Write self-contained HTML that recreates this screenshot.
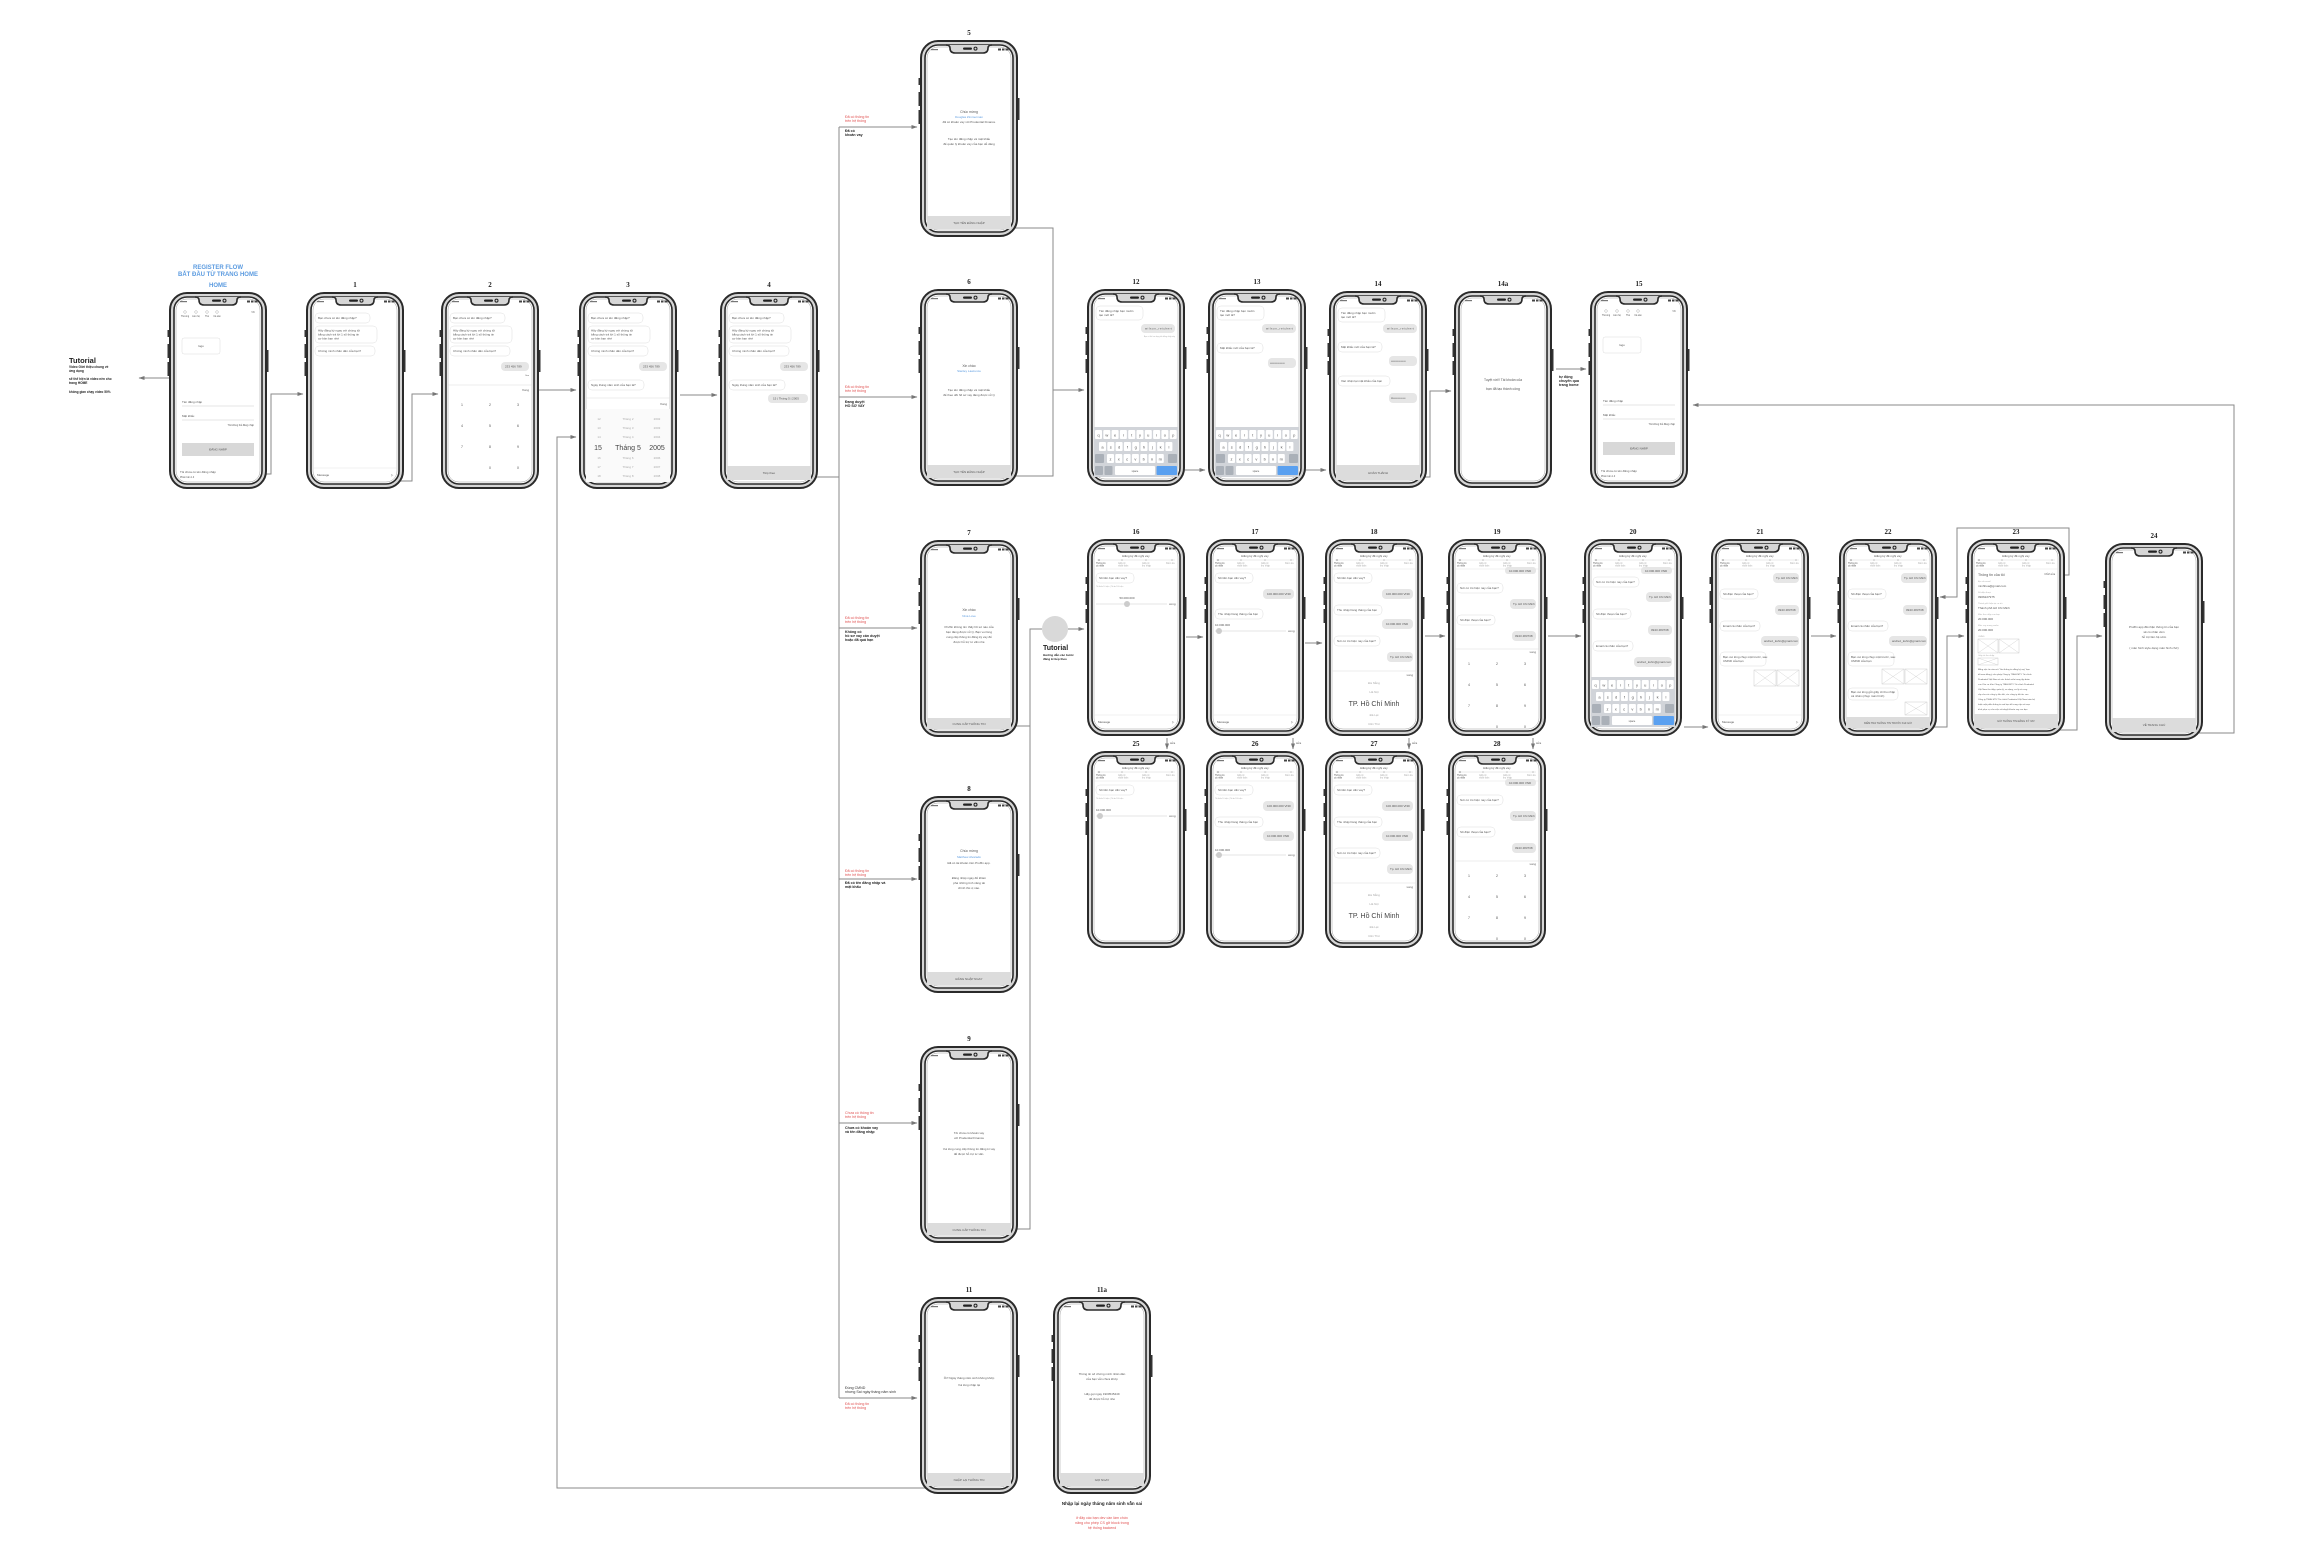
<!DOCTYPE html>
<html><head><meta charset="utf-8">
<style>
html,body{margin:0;padding:0;background:#fff;}
svg{display:block;}
.t{font-family:"Liberation Sans",sans-serif;font-size:3px;fill:#555;}
.t4{font-family:"Liberation Sans",sans-serif;font-size:3.6px;fill:#555;}
.c{text-anchor:middle;}
.r{text-anchor:end;}
.bl{fill:#fff;stroke:#ddd;stroke-width:.5;}
.br{fill:#e6e6e6;stroke:none;}
.btn{fill:#dcdcdc;}
.lb{font-family:"Liberation Serif",serif;font-size:7px;font-weight:bold;fill:#222;text-anchor:middle;}
.ln{fill:none;stroke:#8a8a8a;stroke-width:1;}
.red{font-family:"Liberation Sans",sans-serif;font-size:3.6px;fill:#e05050;}
.blk{font-family:"Liberation Sans",sans-serif;font-size:3.6px;fill:#222;font-weight:bold;}
.big{font-family:"Liberation Sans",sans-serif;font-size:7px;fill:#444;}
.blue{fill:#5b9be0;}
.ph{fill:#fff;stroke:#ccc;stroke-width:.5;}
</style></head>
<body>
<svg width="2304" height="1553" viewBox="0 0 2304 1553" xmlns="http://www.w3.org/2000/svg">
<defs>
<marker id="a" markerWidth="6" markerHeight="6" refX="5.5" refY="3" orient="auto" markerUnits="userSpaceOnUse"><path d="M0,1 L6,3 L0,5 z" fill="#777"/></marker>
<symbol id="ph" viewBox="-2 0 102 197" width="102" height="197" overflow="visible">
<rect x="-1.5" y="38" width="2.5" height="7" fill="#333"/>
<rect x="-1.5" y="52" width="2.5" height="14" fill="#333"/>
<rect x="-1.5" y="70" width="2.5" height="14" fill="#333"/>
<rect x="97" y="58" width="2.5" height="22" fill="#333"/>
<rect x="1" y="1" width="96" height="195" rx="17" fill="#d6d6d6" stroke="#2a2a2a" stroke-width="2"/>
<rect x="5" y="5" width="88" height="187" rx="13" fill="#fff" stroke="#2a2a2a" stroke-width="1.6"/>
<rect x="7" y="7" width="84" height="183" rx="11" fill="none" stroke="#999" stroke-width=".5"/>
<path d="M26 5 Q30 5 30 8 Q30 13 35 13 H63 Q68 13 68 8 Q68 5 72 5" fill="#d6d6d6" stroke="#2a2a2a" stroke-width="1.6"/>
<rect x="43" y="7.5" width="9" height="2.2" rx="1.1" fill="#222"/>
<circle cx="55.5" cy="8.6" r="1.5" fill="none" stroke="#222" stroke-width="1"/>
<rect x="11" y="9" width="7" height="1.2" fill="#777"/>
<rect x="78" y="8.5" width="3" height="2" fill="#444"/><rect x="82" y="8.5" width="2.5" height="2" fill="#444"/><rect x="85.5" y="8.5" width="3" height="2" fill="#444"/>
</symbol>
<symbol id="kb" viewBox="0 0 84 50" width="84" height="50">
<rect width="84" height="50" fill="#d1d4d9"/>
<g fill="#fff">
<rect x="1" y="3" width="7" height="9" rx="1"/><rect x="9.3" y="3" width="7" height="9" rx="1"/><rect x="17.6" y="3" width="7" height="9" rx="1"/><rect x="25.9" y="3" width="7" height="9" rx="1"/><rect x="34.2" y="3" width="7" height="9" rx="1"/><rect x="42.5" y="3" width="7" height="9" rx="1"/><rect x="50.8" y="3" width="7" height="9" rx="1"/><rect x="59.1" y="3" width="7" height="9" rx="1"/><rect x="67.4" y="3" width="7" height="9" rx="1"/><rect x="75.7" y="3" width="7" height="9" rx="1"/>
<rect x="5" y="15" width="7" height="9" rx="1"/><rect x="13.3" y="15" width="7" height="9" rx="1"/><rect x="21.6" y="15" width="7" height="9" rx="1"/><rect x="29.9" y="15" width="7" height="9" rx="1"/><rect x="38.2" y="15" width="7" height="9" rx="1"/><rect x="46.5" y="15" width="7" height="9" rx="1"/><rect x="54.8" y="15" width="7" height="9" rx="1"/><rect x="63.1" y="15" width="7" height="9" rx="1"/><rect x="71.4" y="15" width="7" height="9" rx="1"/>
<rect x="13" y="27" width="7" height="9" rx="1"/><rect x="21.3" y="27" width="7" height="9" rx="1"/><rect x="29.6" y="27" width="7" height="9" rx="1"/><rect x="37.9" y="27" width="7" height="9" rx="1"/><rect x="46.2" y="27" width="7" height="9" rx="1"/><rect x="54.5" y="27" width="7" height="9" rx="1"/><rect x="62.8" y="27" width="7" height="9" rx="1"/>
<rect x="21" y="39" width="40" height="9" rx="1"/>
</g>
<rect x="1" y="27" width="9" height="9" rx="1" fill="#aab0b8"/><rect x="74" y="27" width="9" height="9" rx="1" fill="#aab0b8"/>
<rect x="1" y="39" width="8" height="9" rx="1" fill="#aab0b8"/><rect x="10.5" y="39" width="8" height="9" rx="1" fill="#aab0b8"/>
<rect x="62.5" y="39" width="20.5" height="9" rx="1" fill="#5aa0f0"/>
<g class="t" style="font-size:4px" text-anchor="middle">
<text x="4.5" y="9.5">q</text><text x="12.8" y="9.5">w</text><text x="21.1" y="9.5">e</text><text x="29.4" y="9.5">r</text><text x="37.7" y="9.5">t</text><text x="46" y="9.5">y</text><text x="54.3" y="9.5">u</text><text x="62.6" y="9.5">i</text><text x="70.9" y="9.5">o</text><text x="79.2" y="9.5">p</text>
<text x="8.5" y="21.5">a</text><text x="16.8" y="21.5">s</text><text x="25.1" y="21.5">d</text><text x="33.4" y="21.5">f</text><text x="41.7" y="21.5">g</text><text x="50" y="21.5">h</text><text x="58.3" y="21.5">j</text><text x="66.6" y="21.5">k</text><text x="74.9" y="21.5">l</text>
<text x="16.5" y="33.5">z</text><text x="24.8" y="33.5">x</text><text x="33.1" y="33.5">c</text><text x="41.4" y="33.5">v</text><text x="49.7" y="33.5">b</text><text x="58" y="33.5">n</text><text x="66.3" y="33.5">m</text>
<text x="41" y="45" style="font-size:2.5px">space</text>
</g>
</symbol>
<symbol id="np" viewBox="0 0 84 80" width="84" height="80">
<g class="t" style="font-size:3.5px" text-anchor="middle">
<text x="14" y="10">1</text><text x="42" y="10">2</text><text x="70" y="10">3</text>
<text x="14" y="31">4</text><text x="42" y="31">5</text><text x="70" y="31">6</text>
<text x="14" y="52">7</text><text x="42" y="52">8</text><text x="70" y="52">9</text>
<text x="42" y="73">0</text><text x="70" y="73">X</text>
</g>
</symbol>
<symbol id="lh" viewBox="0 0 84 20" width="84" height="20">
<text class="t c" x="42" y="4">Đăng ký đề nghị vay</text>
<line x1="3" y1="7" x2="81" y2="7" stroke="#ccc" stroke-width=".4"/>
<circle cx="5" cy="7" r=".8" fill="#888"/><circle cx="28" cy="7" r=".8" fill="#bbb"/><circle cx="52" cy="7" r=".8" fill="#bbb"/><circle cx="78" cy="7" r=".8" fill="#bbb"/>
<text class="t" x="2" y="11" style="font-size:2.3px">Thông tin</text><text class="t" x="2" y="13.5" style="font-size:2.3px">cá nhân</text>
<text class="t" x="24" y="11" style="font-size:2.3px;fill:#aaa">Giấy tờ</text><text class="t" x="24" y="13.5" style="font-size:2.3px;fill:#aaa">nhân thân</text>
<text class="t" x="48" y="11" style="font-size:2.3px;fill:#aaa">Giấy tờ</text><text class="t" x="48" y="13.5" style="font-size:2.3px;fill:#aaa">thu nhập</text>
<text class="t" x="72" y="11" style="font-size:2.3px;fill:#aaa">Kiểm tra</text>
<line x1="0" y1="16" x2="84" y2="16" stroke="#ddd" stroke-width=".4"/>
</symbol>
<symbol id="login" viewBox="0 0 98 197" width="98" height="197">
<g class="t" style="font-size:2.3px" text-anchor="middle">
<circle cx="16" cy="20" r="1.3" fill="none" stroke="#999" stroke-width=".4"/><text x="16" y="25">Thương</text>
<circle cx="27" cy="20" r="1.3" fill="none" stroke="#999" stroke-width=".4"/><text x="27" y="25">Liên hệ</text>
<circle cx="38" cy="20" r="1.3" fill="none" stroke="#999" stroke-width=".4"/><text x="38" y="25">Thẻ</text>
<circle cx="48" cy="20" r="1.3" fill="none" stroke="#999" stroke-width=".4"/><text x="48" y="25">Cá sản</text>
<text x="84" y="21">VN</text>
</g>
<rect x="13" y="46" width="38" height="16" rx="2" fill="#fff" stroke="#ddd" stroke-width=".5"/>
<text class="t c" x="32" y="55">logo</text>
<text class="t" x="13" y="111">Tên đăng nhập</text>
<line x1="13" y1="114" x2="85" y2="114" stroke="#ddd" stroke-width=".8"/>
<text class="t" x="13" y="125">Mật khẩu</text>
<line x1="13" y1="128" x2="85" y2="128" stroke="#ddd" stroke-width=".8"/>
<text class="t r" x="85" y="134" style="font-size:2.4px">Tôi không thể đăng nhập</text>
<rect x="13" y="151" width="72" height="13" fill="#d8d8d8"/>
<text class="t c" x="49" y="158.5">ĐĂNG NHẬP</text>
<text class="t" x="11" y="181">Tôi chưa có tên đăng nhập</text>
<text class="t" x="11" y="186" style="font-size:2.3px">Phiên bản 1.0</text>
</symbol>
<symbol id="chat3" viewBox="0 0 98 197" width="98" height="197">
<rect class="bl" x="9" y="21" width="55" height="10" rx="4"/><text class="t" x="12" y="27">Bạn chưa có tên đăng nhập?</text>
<rect class="bl" x="9" y="34" width="62" height="17" rx="4"/><text class="t" x="12" y="39.5">Hãy đăng ký ngay với chúng tôi</text><text class="t" x="12" y="43.5">bằng cách trả lời 1 số thông tin</text><text class="t" x="12" y="47.5">cơ bản bạn nhé</text>
<rect class="bl" x="9" y="54" width="60" height="10" rx="4"/><text class="t" x="12" y="60">Chứng minh nhân dân của bạn?</text>
</symbol>
<symbol id="msg" viewBox="0 0 98 197" width="98" height="197">
<line x1="7" y1="176" x2="91" y2="176" stroke="#e2e2e2" stroke-width=".5"/>
<text class="t" x="11" y="184">Message</text><text class="t" x="85" y="184">▷</text>
</symbol>
</defs>

<!-- connectors -->
<g class="ln">
<path d="M218,378 H139" marker-end="url(#a)"/>
<path d="M232,474 H271 V394 H303" marker-end="url(#a)"/>
<path d="M358,481 H412 V394 H438" marker-end="url(#a)"/>
<path d="M528,390 H576" marker-end="url(#a)"/>
<path d="M936,1488 H557 V437 H576" marker-end="url(#a)"/>
<path d="M680,395 H717" marker-end="url(#a)"/>
<path d="M800,477 H839"/>
<path d="M839,127 V1398"/>
<path d="M839,127 H917" marker-end="url(#a)"/>
<path d="M839,397 H917" marker-end="url(#a)"/>
<path d="M839,628 H917" marker-end="url(#a)"/>
<path d="M839,879 H917" marker-end="url(#a)"/>
<path d="M839,1123 H917" marker-end="url(#a)"/>
<path d="M839,1398 H917" marker-end="url(#a)"/>
<path d="M1000,228 H1053 V476 H1000"/>
<path d="M1053,390 H1084" marker-end="url(#a)"/>
<path d="M1182,470 H1205" marker-end="url(#a)"/>
<path d="M1302,470 H1326" marker-end="url(#a)"/>
<path d="M1410,477 H1430 V391 H1451" marker-end="url(#a)"/>
<path d="M1556,369 H1586" marker-end="url(#a)"/>
<path d="M2190,733 H2234 V405 H1693" marker-end="url(#a)"/>
<path d="M1000,726 H1030 V629 H1042"/>
<path d="M990,1229 H1030 V726"/>
<path d="M1068,629 H1084" marker-end="url(#a)"/>
<path d="M1186,637 H1203" marker-end="url(#a)"/>
<path d="M1305,643 H1322" marker-end="url(#a)"/>
<path d="M1425,636 H1445" marker-end="url(#a)"/>
<path d="M1548,636 H1581" marker-end="url(#a)"/>
<path d="M1684,727 H1708" marker-end="url(#a)"/>
<path d="M1811,636 H1836" marker-end="url(#a)"/>
<path d="M1927,727 H1947 V636 H1964" marker-end="url(#a)"/>
<path d="M2058,575 H2069 V528 H1957 V597 H1940" marker-end="url(#a)"/>
<path d="M2048,730 H2077 V636 H2102" marker-end="url(#a)"/>
<path d="M1167,738 V749" marker-end="url(#a)"/>
<path d="M1293,738 V749" marker-end="url(#a)"/>
<path d="M1409,738 V749" marker-end="url(#a)"/>
<path d="M1533,738 V749" marker-end="url(#a)"/>
</g>
<g class="t"><text x="1170" y="744">sửa</text><text x="1296" y="744">sửa</text><text x="1412" y="744">sửa</text><text x="1536" y="744">sửa</text></g>
<circle cx="1055" cy="629" r="13" fill="#d9d9d9"/>
<text x="1043" y="650" style="font-family:'Liberation Sans',sans-serif;font-size:7px;font-weight:bold;fill:#222">Tutorial</text>
<text class="blk" x="1043" y="656" style="font-size:3px">Hướng dẫn các bước</text>
<text class="blk" x="1043" y="660" style="font-size:3px">đăng kí tiếp theo</text>

<!-- titles -->
<text x="218" y="269" style="font-family:'Liberation Sans',sans-serif;font-size:6px;font-weight:bold;fill:#5b9be0" text-anchor="middle">REGISTER FLOW</text>
<text x="218" y="276" style="font-family:'Liberation Sans',sans-serif;font-size:6px;font-weight:bold;fill:#5b9be0" text-anchor="middle">BẮT ĐẦU TỪ TRANG HOME</text>
<text x="218" y="287" style="font-family:'Liberation Sans',sans-serif;font-size:6px;font-weight:bold;fill:#5b9be0" text-anchor="middle">HOME</text>
<text x="69" y="363" style="font-family:'Liberation Sans',sans-serif;font-size:7.5px;font-weight:bold;fill:#222">Tutorial</text>
<g class="blk" style="font-size:3.2px"><text x="69" y="368">Video Giới thiệu chung về</text><text x="69" y="372">ứng dụng</text><text x="69" y="380">sẽ thể hiện là video nền cho</text><text x="69" y="384">trang HOME</text><text x="69" y="393">không gian chạy video 50%</text></g>

<!-- branch labels -->
<text class="red" x="845" y="118">Đã có thông tin</text><text class="red" x="845" y="122">trên hệ thống</text>
<text class="blk" x="845" y="132">Đã có</text><text class="blk" x="845" y="136">khoản vay</text>
<text class="red" x="845" y="388">Đã có thông tin</text><text class="red" x="845" y="392">trên hệ thống</text>
<text class="blk" x="845" y="403">Đang duyệt</text><text class="blk" x="845" y="407">HỒ SƠ VAY</text>
<text class="red" x="845" y="619">Đã có thông tin</text><text class="red" x="845" y="623">trên hệ thống</text>
<text class="blk" x="845" y="633">Không có</text><text class="blk" x="845" y="637">hồ sơ vay cần duyệt</text><text class="blk" x="845" y="641">hoặc đã quá hạn</text>
<text class="red" x="845" y="872">Đã có thông tin</text><text class="red" x="845" y="876">trên hệ thống</text>
<text class="blk" x="845" y="884">Đã có tên đăng nhập và</text><text class="blk" x="845" y="888">mật khẩu</text>
<text class="red" x="845" y="1114">Chưa có thông tin</text><text class="red" x="845" y="1118">trên hệ thống</text>
<text class="blk" x="845" y="1129">Chưa có khoản vay</text><text class="blk" x="845" y="1133">và tên đăng nhập</text>
<text class="t4" x="845" y="1389" style="fill:#333">Đúng CMND</text><text class="t4" x="845" y="1393" style="fill:#333">nhưng Sai ngày tháng năm sinh</text>
<text class="red" x="845" y="1405">Đã có thông tin</text><text class="red" x="845" y="1409">trên hệ thống</text>
<text class="blk" x="1559" y="378">tự động</text><text class="blk" x="1559" y="382">chuyển qua</text><text class="blk" x="1559" y="386">trang home</text>
<text x="1102" y="1505" style="font-family:'Liberation Sans',sans-serif;font-size:4.5px;font-weight:bold;fill:#222" text-anchor="middle">Nhập lại ngày tháng năm sinh vẫn sai</text>
<g class="red" text-anchor="middle"><text x="1102" y="1519">ở đây các bạn dev cần làm chức</text><text x="1102" y="1524">năng cho phép CS gỡ block trong</text><text x="1102" y="1529">hệ thống backend</text></g>

<!-- HOME -->
<g transform="translate(169,292)"><use href="#ph" x="-2"/><use href="#login"/></g>
<!-- 1 -->
<g transform="translate(306,292)"><text class="lb" x="49" y="-5">1</text><use href="#ph" x="-2"/><use href="#chat3"/><use href="#msg"/></g>
<!-- 2 -->
<g transform="translate(441,292)"><text class="lb" x="49" y="-5">2</text><use href="#ph" x="-2"/><use href="#chat3"/>
<rect class="br" x="60" y="70" width="28" height="9" rx="4"/><text class="t" x="64" y="75.5">233 456 789</text><text class="t r" x="88" y="84" style="font-size:2px">Sửa</text>
<line x1="7" y1="93" x2="91" y2="93" stroke="#ddd" stroke-width=".5"/><text class="t r" x="88" y="99">Xong</text>
<use href="#np" x="7" y="104"/></g>
<!-- 3 -->
<g transform="translate(579,292)"><text class="lb" x="49" y="-5">3</text><use href="#ph" x="-2"/><use href="#chat3"/>
<rect class="br" x="60" y="70" width="28" height="9" rx="4"/><text class="t" x="64" y="75.5">233 456 789</text>
<rect class="bl" x="9" y="88" width="56" height="10" rx="4"/><text class="t" x="12" y="94">Ngày tháng năm sinh của bạn là?</text>
<line x1="7" y1="106" x2="91" y2="106" stroke="#ddd" stroke-width=".5"/><text class="t r" x="88" y="113">Xong</text>
<rect x="7" y="117" width="84" height="73" fill="#fafafa"/>
<g class="t c" style="fill:#aaa"><text x="20" y="128">12</text><text x="49" y="128">Tháng 2</text><text x="78" y="128">2002</text><text x="20" y="137">13</text><text x="49" y="137">Tháng 3</text><text x="78" y="137">2003</text><text x="20" y="146">14</text><text x="49" y="146">Tháng 4</text><text x="78" y="146">2004</text>
<text x="20" y="167">16</text><text x="49" y="167">Tháng 6</text><text x="78" y="167">2006</text><text x="20" y="176">17</text><text x="49" y="176">Tháng 7</text><text x="78" y="176">2007</text><text x="20" y="185">18</text><text x="49" y="185">Tháng 8</text><text x="78" y="185">2008</text></g>
<g class="big c"><text x="19" y="158">15</text><text x="49" y="158">Tháng 5</text><text x="78" y="158">2005</text></g></g>
<!-- 4 -->
<g transform="translate(720,292)"><text class="lb" x="49" y="-5">4</text><use href="#ph" x="-2"/><use href="#chat3"/>
<rect class="br" x="60" y="70" width="28" height="9" rx="4"/><text class="t" x="64" y="75.5">233 456 789</text>
<rect class="bl" x="9" y="88" width="56" height="10" rx="4"/><text class="t" x="12" y="94">Ngày tháng năm sinh của bạn là?</text>
<rect class="br" x="48" y="102" width="40" height="9" rx="4"/><text class="t" x="53" y="107.5">15 | Tháng 5 | 2005</text>
<rect class="btn" x="7" y="174" width="84" height="14"/><text class="t c" x="49" y="182">Tiếp theo</text></g>
<!-- 5 -->
<g transform="translate(920,40)"><text class="lb" x="49" y="-5">5</text><use href="#ph" x="-2"/>
<g class="t c"><text x="49" y="73" style="font-size:3.4px">Chúc mừng</text><text x="49" y="78" class="blue">Douglas Zimmerman</text><text x="49" y="83">đã có khoản vay với Prudential Finance</text><text x="49" y="100">Tạo tên đăng nhập và mật khẩu</text><text x="49" y="105">để quản lý khoản vay của bạn dễ dàng</text></g>
<rect class="btn" x="7" y="176" width="84" height="13"/><text class="t c" x="49" y="184">TẠO TÊN ĐĂNG NHẬP</text></g>
<!-- 6 -->
<g transform="translate(920,289)"><text class="lb" x="49" y="-5">6</text><use href="#ph" x="-2"/>
<g class="t c"><text x="49" y="78" style="font-size:3.4px">Xin chào</text><text x="49" y="83" class="blue">Stanley Lawrence</text><text x="49" y="102">Tạo tên đăng nhập và mật khẩu</text><text x="49" y="107">để theo dõi hồ sơ vay đang được xử lý</text></g>
<rect class="btn" x="7" y="176" width="84" height="13"/><text class="t c" x="49" y="184">TẠO TÊN ĐĂNG NHẬP</text></g>
<!-- 7 -->
<g transform="translate(920,540)"><text class="lb" x="49" y="-5">7</text><use href="#ph" x="-2"/>
<g class="t c"><text x="49" y="71" style="font-size:3.4px">Xin chào</text><text x="49" y="77" class="blue">Nina Love</text><text x="49" y="88">Pruffin không tìm thấy hồ sơ nào của</text><text x="49" y="93">bạn đang được xử lý. Bạn vui lòng</text><text x="49" y="98">cung cấp thông tin đăng ký vay để</text><text x="49" y="103">được hỗ trợ tư vấn nhé</text></g>
<rect class="btn" x="7" y="178" width="84" height="11"/><text class="t c" x="49" y="185">CUNG CẤP THÔNG TIN</text></g>
<!-- 8 -->
<g transform="translate(920,796)"><text class="lb" x="49" y="-5">8</text><use href="#ph" x="-2"/>
<g class="t c"><text x="49" y="56" style="font-size:3.4px">Chúc mừng</text><text x="49" y="62" class="blue">Matthew Alvarado</text><text x="49" y="68">Đã có tài khoản trên Pruffin app.</text><text x="49" y="83">Đăng nhập ngay để khám</text><text x="49" y="88">phá những tính năng tài</text><text x="49" y="93">chính thú vị nào.</text></g>
<rect class="btn" x="7" y="176" width="84" height="13"/><text class="t c" x="49" y="184">ĐĂNG NHẬP NGAY</text></g>
<!-- 9 -->
<g transform="translate(920,1046)"><text class="lb" x="49" y="-5">9</text><use href="#ph" x="-2"/>
<g class="t c"><text x="49" y="88">Tôi chưa có khoản vay</text><text x="49" y="93">với Prudential Finance</text><text x="49" y="104">Vui lòng cung cấp thông tin đăng kí vay</text><text x="49" y="109">để được hỗ trợ tư vấn.</text></g>
<rect class="btn" x="7" y="177" width="84" height="12"/><text class="t c" x="49" y="185">CUNG CẤP THÔNG TIN</text></g>
<!-- 11 -->
<g transform="translate(920,1297)"><text class="lb" x="49" y="-5">11</text><use href="#ph" x="-2"/>
<g class="t c"><text x="49" y="82">Ôi!! Ngày tháng năm sinh không khớp</text><text x="49" y="89">Vui lòng nhập lại</text></g>
<rect class="btn" x="7" y="176" width="84" height="13"/><text class="t c" x="49" y="184">NHẬP LẠI THÔNG TIN</text></g>
<!-- 11a -->
<g transform="translate(1053,1297)"><text class="lb" x="49" y="-5">11a</text><use href="#ph" x="-2"/>
<g class="t c"><text x="49" y="78">Thông tin số chứng minh nhân dân</text><text x="49" y="83">của bạn vẫn chưa khớp</text><text x="49" y="98">Hãy gọi ngay 1900545449</text><text x="49" y="103">để được hỗ trợ nhé</text></g>
<rect class="btn" x="7" y="176" width="84" height="13"/><text class="t c" x="49" y="184">GỌI NGAY</text></g>
<!-- 12 -->
<g transform="translate(1087,289)"><text class="lb" x="49" y="-5">12</text><use href="#ph" x="-2"/>
<rect class="bl" x="9" y="17" width="47" height="14" rx="4"/><text class="t" x="12" y="23">Tên đăng nhập bạn muốn</text><text class="t" x="12" y="27">tạo mới là?</text>
<rect class="br" x="54" y="35" width="34" height="9" rx="4"/><text class="t" x="58" y="40.5" style="letter-spacing:.5px">wilson_reichert</text>
<text class="t r" x="88" y="48" style="font-size:1.8px;fill:#aaa">Bạn có thể sử dụng tên đăng nhập này</text>
<use href="#kb" x="7" y="138"/></g>
<!-- 13 -->
<g transform="translate(1208,289)"><text class="lb" x="49" y="-5">13</text><use href="#ph" x="-2"/>
<rect class="bl" x="9" y="17" width="47" height="14" rx="4"/><text class="t" x="12" y="23">Tên đăng nhập bạn muốn</text><text class="t" x="12" y="27">tạo mới là?</text>
<rect class="br" x="54" y="35" width="34" height="9" rx="4"/><text class="t" x="58" y="40.5" style="letter-spacing:.5px">wilson_reichert</text>
<rect class="bl" x="9" y="54" width="46" height="10" rx="4"/><text class="t" x="12" y="60">Mật khẩu mới của bạn là?</text>
<rect class="br" x="60" y="69" width="28" height="10" rx="4"/><text class="t" x="62" y="75">••••••••••••••</text>
<use href="#kb" x="7" y="138"/></g>
<!-- 14 -->
<g transform="translate(1329,291)"><text class="lb" x="49" y="-5">14</text><use href="#ph" x="-2"/>
<rect class="bl" x="9" y="17" width="47" height="14" rx="4"/><text class="t" x="12" y="23">Tên đăng nhập bạn muốn</text><text class="t" x="12" y="27">tạo mới là?</text>
<rect class="br" x="54" y="33" width="34" height="9" rx="4"/><text class="t" x="58" y="38.5" style="letter-spacing:.5px">wilson_reichert</text>
<rect class="bl" x="9" y="51" width="44" height="10" rx="4"/><text class="t" x="12" y="57">Mật khẩu mới của bạn là?</text>
<rect class="br" x="60" y="65" width="28" height="10" rx="4"/><text class="t" x="62" y="71">••••••••••••••</text>
<rect class="bl" x="9" y="85" width="52" height="10" rx="4"/><text class="t" x="12" y="91">Xác nhận lại mật khẩu của bạn</text>
<rect class="br" x="60" y="102" width="28" height="10" rx="4"/><text class="t" x="62" y="108">A••••••••••••</text>
<rect class="btn" x="7" y="174" width="84" height="15"/><text class="t c" x="49" y="183">HOÀN THÀNH</text></g>
<!-- 14a -->
<g transform="translate(1454,291)"><text class="lb" x="49" y="-5">14a</text><use href="#ph" x="-2"/>
<g class="t c" style="font-size:3.4px"><text x="49" y="90">Tuyệt vời!! Tài khoản của</text><text x="49" y="99">bạn đã tạo thành công</text></g></g>
<!-- 15 -->
<g transform="translate(1590,291)"><text class="lb" x="49" y="-5">15</text><use href="#ph" x="-2"/><use href="#login"/></g>

<!-- 16 -->
<g transform="translate(1087,539)"><text class="lb" x="49" y="-5">16</text><use href="#ph" x="-2"/><use href="#lh" x="7" y="14"/>
<rect class="bl" x="9" y="34" width="38" height="10" rx="4"/><text class="t" x="12" y="40">Số tiền bạn cần vay?</text>
<text class="t" x="9" y="48" style="font-size:1.8px;fill:#aaa">Tối thiểu 10 triệu | Tối đa 100 triệu</text>
<text class="t c" x="40" y="60">50.000.000</text><line x1="9" y1="65" x2="80" y2="65" stroke="#ccc" stroke-width=".6"/><circle cx="40" cy="65" r="3" fill="#ccc"/><text class="t" x="82" y="66">xong</text>
<use href="#msg"/></g>
<!-- 17 -->
<g transform="translate(1206,539)"><text class="lb" x="49" y="-5">17</text><use href="#ph" x="-2"/><use href="#lh" x="7" y="14"/>
<rect class="bl" x="9" y="34" width="38" height="10" rx="4"/><text class="t" x="12" y="40">Số tiền bạn cần vay?</text>
<rect class="br" x="57" y="50" width="31" height="10" rx="4"/><text class="t" x="61" y="56">100.000.000 VND</text>
<rect class="bl" x="9" y="70" width="48" height="10" rx="4"/><text class="t" x="12" y="76">Thu nhập hàng tháng của bạn</text>
<text class="t" x="9" y="87">10.000.000</text><line x1="9" y1="92" x2="80" y2="92" stroke="#ccc" stroke-width=".6"/><circle cx="13" cy="92" r="3" fill="#ccc"/><text class="t" x="82" y="93">xong</text>
<use href="#msg"/></g>
<!-- 18 -->
<g transform="translate(1325,539)"><text class="lb" x="49" y="-5">18</text><use href="#ph" x="-2"/><use href="#lh" x="7" y="14"/>
<rect class="bl" x="9" y="34" width="38" height="10" rx="4"/><text class="t" x="12" y="40">Số tiền bạn cần vay?</text>
<rect class="br" x="57" y="50" width="31" height="10" rx="4"/><text class="t" x="61" y="56">100.000.000 VND</text>
<rect class="bl" x="9" y="66" width="48" height="10" rx="4"/><text class="t" x="12" y="72">Thu nhập hàng tháng của bạn</text>
<rect class="br" x="57" y="80" width="31" height="10" rx="4"/><text class="t" x="61" y="86">10.000.000 VND</text>
<rect class="bl" x="9" y="97" width="46" height="10" rx="4"/><text class="t" x="12" y="103">Nơi cư trú hiện nay của bạn?</text>
<rect class="br" x="62" y="113" width="26" height="10" rx="4"/><text class="t" x="65" y="119">Tp. Hồ Chí Minh</text>
<line x1="7" y1="132" x2="91" y2="132" stroke="#ddd" stroke-width=".5"/><text class="t r" x="88" y="137">xong</text>
<g class="t c" style="fill:#aaa"><text x="49" y="145">Đà Nẵng</text><text x="49" y="154">Hà Nội</text><text x="49" y="177">Đà Lạt</text><text x="49" y="186">Cần Thơ</text></g>
<text class="big c" x="49" y="167">TP. Hồ Chí Minh</text></g>
<!-- 19 -->
<g transform="translate(1448,539)"><text class="lb" x="49" y="-5">19</text><use href="#ph" x="-2"/><use href="#lh" x="7" y="14"/>
<rect class="br" x="57" y="28" width="31" height="7" rx="3"/><text class="t" x="61" y="33">10.000.000 VND</text>
<rect class="bl" x="9" y="44" width="46" height="10" rx="4"/><text class="t" x="12" y="50">Nơi cư trú hiện nay của bạn?</text>
<rect class="br" x="62" y="60" width="26" height="10" rx="4"/><text class="t" x="65" y="66">Tp. Hồ Chí Minh</text>
<rect class="bl" x="9" y="76" width="38" height="10" rx="4"/><text class="t" x="12" y="82">Số điện thoại của bạn?</text>
<rect class="br" x="64" y="92" width="24" height="10" rx="4"/><text class="t" x="67" y="98">0943 483738</text>
<line x1="7" y1="110" x2="91" y2="110" stroke="#ddd" stroke-width=".5"/><text class="t r" x="88" y="114">xong</text>
<use href="#np" x="7" y="116"/></g>
<!-- 20 -->
<g transform="translate(1584,539)"><text class="lb" x="49" y="-5">20</text><use href="#ph" x="-2"/><use href="#lh" x="7" y="14"/>
<rect class="br" x="57" y="28" width="31" height="7" rx="3"/><text class="t" x="61" y="33">10.000.000 VND</text>
<rect class="bl" x="9" y="38" width="46" height="10" rx="4"/><text class="t" x="12" y="44">Nơi cư trú hiện nay của bạn?</text>
<rect class="br" x="62" y="53" width="26" height="10" rx="4"/><text class="t" x="65" y="59">Tp. Hồ Chí Minh</text>
<rect class="bl" x="9" y="70" width="38" height="10" rx="4"/><text class="t" x="12" y="76">Số điện thoại của bạn?</text>
<rect class="br" x="64" y="86" width="24" height="10" rx="4"/><text class="t" x="67" y="92">0943 483738</text>
<rect class="bl" x="9" y="102" width="40" height="10" rx="4"/><text class="t" x="12" y="108">Email cá nhân của bạn?</text>
<rect class="br" x="50" y="118" width="38" height="10" rx="4"/><text class="t" x="53" y="124">andrez_kuhn@gmail.com</text>
<use href="#kb" x="7" y="138"/></g>
<!-- 21 -->
<g transform="translate(1711,539)"><text class="lb" x="49" y="-5">21</text><use href="#ph" x="-2"/><use href="#lh" x="7" y="14"/>
<rect class="br" x="62" y="34" width="26" height="10" rx="4"/><text class="t" x="65" y="40">Tp. Hồ Chí Minh</text>
<rect class="bl" x="9" y="50" width="38" height="10" rx="4"/><text class="t" x="12" y="56">Số điện thoại của bạn?</text>
<rect class="br" x="64" y="66" width="24" height="10" rx="4"/><text class="t" x="67" y="72">0943 483738</text>
<rect class="bl" x="9" y="82" width="40" height="10" rx="4"/><text class="t" x="12" y="88">Email cá nhân của bạn?</text>
<rect class="br" x="50" y="97" width="38" height="10" rx="4"/><text class="t" x="53" y="103">andrez_kuhn@gmail.com</text>
<rect class="bl" x="9" y="113" width="46" height="14" rx="4"/><text class="t" x="12" y="119">Bạn vui lòng chụp mặt trước, sau</text><text class="t" x="12" y="123">CMND của bạn</text>
<rect class="ph" x="43" y="131" width="22" height="16"/><path d="M43,131 L65,147 M65,131 L43,147" stroke="#ccc" stroke-width=".4"/>
<rect class="ph" x="66" y="131" width="22" height="16"/><path d="M66,131 L88,147 M88,131 L66,147" stroke="#ccc" stroke-width=".4"/>
<use href="#msg"/></g>
<!-- 22 -->
<g transform="translate(1839,539)"><text class="lb" x="49" y="-5">22</text><use href="#ph" x="-2"/><use href="#lh" x="7" y="14"/>
<rect class="br" x="62" y="34" width="26" height="10" rx="4"/><text class="t" x="65" y="40">Tp. Hồ Chí Minh</text>
<rect class="bl" x="9" y="50" width="38" height="10" rx="4"/><text class="t" x="12" y="56">Số điện thoại của bạn?</text>
<rect class="br" x="64" y="66" width="24" height="10" rx="4"/><text class="t" x="67" y="72">0943 483738</text>
<rect class="bl" x="9" y="82" width="40" height="10" rx="4"/><text class="t" x="12" y="88">Email cá nhân của bạn?</text>
<rect class="br" x="50" y="97" width="38" height="10" rx="4"/><text class="t" x="53" y="103">andrez_kuhn@gmail.com</text>
<rect class="bl" x="9" y="113" width="46" height="14" rx="4"/><text class="t" x="12" y="119">Bạn vui lòng chụp mặt trước, sau</text><text class="t" x="12" y="123">CMND của bạn</text>
<rect class="ph" x="43" y="130" width="22" height="15"/><path d="M43,130 L65,145 M65,130 L43,145" stroke="#ccc" stroke-width=".4"/>
<rect class="ph" x="66" y="130" width="22" height="15"/><path d="M66,130 L88,145 M88,130 L66,145" stroke="#ccc" stroke-width=".4"/>
<rect class="bl" x="9" y="149" width="50" height="12" rx="4"/><text class="t" x="12" y="154">Bạn vui lòng gửi giấy tờ thu nhập</text><text class="t" x="12" y="158">cá nhân (chụp màn hình)</text>
<rect class="ph" x="66" y="163" width="22" height="13"/><path d="M66,163 L88,176 M88,163 L66,176" stroke="#ccc" stroke-width=".4"/>
<rect class="btn" x="7" y="178" width="84" height="11"/><text class="t c" x="49" y="185" style="font-size:2.6px">KIỂM TRA THÔNG TIN TRƯỚC KHI GỬI</text></g>
<!-- 23 -->
<g transform="translate(1967,539)"><text class="lb" x="49" y="-5">23</text><use href="#ph" x="-2"/><use href="#lh" x="7" y="14"/>
<text class="t4" x="11" y="37">Thông tin của tôi</text><text class="t r" x="88" y="36" style="font-size:2.3px">Chỉnh sửa</text>
<g class="t" style="font-size:2.2px;fill:#aaa"><text x="11" y="43">Địa chỉ email</text><text x="11" y="54">Số điện thoại</text><text x="11" y="65">Thành phố hiện tại cư trú</text><text x="11" y="76">Mức thu nhập của bạn</text><text x="11" y="87">Mức vay mong muốn</text><text x="11" y="98">CMND</text><text x="11" y="117">Giấy tờ thu nhập</text></g>
<g class="t"><text x="11" y="48">minhhoa@gmail.com</text><text x="11" y="59">0906227975</text><text x="11" y="70">Thành phố Hồ Chí Minh</text><text x="11" y="81">20.000.000</text><text x="11" y="92">20.000.000</text></g>
<rect class="ph" x="11" y="100" width="20" height="14"/><path d="M11,100 L31,114 M31,100 L11,114" stroke="#ccc" stroke-width=".4"/>
<rect class="ph" x="32" y="100" width="20" height="14"/><path d="M32,100 L52,114 M52,100 L32,114" stroke="#ccc" stroke-width=".4"/>
<rect class="ph" x="11" y="119" width="20" height="7"/><path d="M11,119 L31,126 M31,119 L11,126" stroke="#ccc" stroke-width=".4"/>
<g class="t" style="font-size:2.2px"><text x="11" y="131">Bằng việc ấn vào nút "Gửi thông tin đăng ký vay" bạn</text><text x="11" y="136">đã xem đồng ý cho phép Công ty TNHH MTV Tài chính</text><text x="11" y="141">Prudential Việt Nam và các thành viên trong tập đoàn</text><text x="11" y="146">của Chủ sở hữu Công ty TNHH MTV Tài chính Prudential</text><text x="11" y="151">Việt Nam thu thập, quản lý, sử dụng, xử lý và cung</text><text x="11" y="156">cấp cho các công ty liên kết, các công ty đối tác của</text><text x="11" y="161">Công ty TNHH MTV Tài chính Prudential Việt Nam toàn bộ</text><text x="11" y="166">hoặc một phần thông tin mà bạn đã cung cấp với mục</text><text x="11" y="171">đích phục vụ cho việc xét duyệt khoản vay của bạn</text></g>
<rect class="btn" x="7" y="175" width="84" height="14"/><text class="t c" x="49" y="183" style="font-size:2.6px">GỬI THÔNG TIN ĐĂNG KÝ VAY</text></g>
<!-- 24 -->
<g transform="translate(2105,543)"><text class="lb" x="49" y="-5">24</text><use href="#ph" x="-2"/>
<g class="t c"><text x="49" y="85">Pruffin app đã nhận thông tin của bạn</text><text x="49" y="90">sẽ có nhân viên</text><text x="49" y="95">hỗ trợ liên hệ sớm</text><text x="49" y="106">( màn hình style dạng màn hình chờ)</text></g>
<rect class="btn" x="7" y="175" width="84" height="14"/><text class="t c" x="49" y="183">VỀ TRANG CHỦ</text></g>

<!-- 25 -->
<g transform="translate(1087,751)"><text class="lb" x="49" y="-5">25</text><use href="#ph" x="-2"/><use href="#lh" x="7" y="14"/>
<rect class="bl" x="9" y="34" width="38" height="10" rx="4"/><text class="t" x="12" y="40">Số tiền bạn cần vay?</text>
<text class="t" x="9" y="48" style="font-size:1.8px;fill:#aaa">Tối thiểu 10 triệu | Tối đa 100 triệu</text>
<text class="t" x="9" y="60">10.000.000</text><line x1="9" y1="65" x2="80" y2="65" stroke="#ccc" stroke-width=".6"/><circle cx="13" cy="65" r="3" fill="#ccc"/><text class="t" x="82" y="66">xong</text></g>
<!-- 26 -->
<g transform="translate(1206,751)"><text class="lb" x="49" y="-5">26</text><use href="#ph" x="-2"/><use href="#lh" x="7" y="14"/>
<rect class="bl" x="9" y="34" width="38" height="10" rx="4"/><text class="t" x="12" y="40">Số tiền bạn cần vay?</text>
<text class="t" x="9" y="48" style="font-size:1.8px;fill:#aaa">Tối thiểu 10 triệu | Tối đa 100 triệu</text>
<rect class="br" x="57" y="50" width="31" height="10" rx="4"/><text class="t" x="61" y="56">100.000.000 VND</text>
<rect class="bl" x="9" y="66" width="48" height="10" rx="4"/><text class="t" x="12" y="72">Thu nhập hàng tháng của bạn</text>
<rect class="br" x="57" y="80" width="31" height="10" rx="4"/><text class="t" x="61" y="86">10.000.000 VND</text>
<text class="t" x="9" y="100">10.000.000</text><line x1="9" y1="104" x2="80" y2="104" stroke="#ccc" stroke-width=".6"/><circle cx="13" cy="104" r="3" fill="#ccc"/><text class="t" x="82" y="105">xong</text></g>
<!-- 27 -->
<g transform="translate(1325,751)"><text class="lb" x="49" y="-5">27</text><use href="#ph" x="-2"/><use href="#lh" x="7" y="14"/>
<rect class="bl" x="9" y="34" width="38" height="10" rx="4"/><text class="t" x="12" y="40">Số tiền bạn cần vay?</text>
<rect class="br" x="57" y="50" width="31" height="10" rx="4"/><text class="t" x="61" y="56">100.000.000 VND</text>
<rect class="bl" x="9" y="66" width="48" height="10" rx="4"/><text class="t" x="12" y="72">Thu nhập hàng tháng của bạn</text>
<rect class="br" x="57" y="80" width="31" height="10" rx="4"/><text class="t" x="61" y="86">10.000.000 VND</text>
<rect class="bl" x="9" y="97" width="46" height="10" rx="4"/><text class="t" x="12" y="103">Nơi cư trú hiện nay của bạn?</text>
<rect class="br" x="62" y="113" width="26" height="10" rx="4"/><text class="t" x="65" y="119">Tp. Hồ Chí Minh</text>
<line x1="7" y1="132" x2="91" y2="132" stroke="#ddd" stroke-width=".5"/><text class="t r" x="88" y="137">xong</text>
<g class="t c" style="fill:#aaa"><text x="49" y="145">Đà Nẵng</text><text x="49" y="154">Hà Nội</text><text x="49" y="177">Đà Lạt</text><text x="49" y="186">Cần Thơ</text></g>
<text class="big c" x="49" y="167">TP. Hồ Chí Minh</text></g>
<!-- 28 -->
<g transform="translate(1448,751)"><text class="lb" x="49" y="-5">28</text><use href="#ph" x="-2"/><use href="#lh" x="7" y="14"/>
<rect class="br" x="57" y="28" width="31" height="7" rx="3"/><text class="t" x="61" y="33">10.000.000 VND</text>
<rect class="bl" x="9" y="44" width="46" height="10" rx="4"/><text class="t" x="12" y="50">Nơi cư trú hiện nay của bạn?</text>
<rect class="br" x="62" y="60" width="26" height="10" rx="4"/><text class="t" x="65" y="66">Tp. Hồ Chí Minh</text>
<rect class="bl" x="9" y="76" width="38" height="10" rx="4"/><text class="t" x="12" y="82">Số điện thoại của bạn?</text>
<rect class="br" x="64" y="92" width="24" height="10" rx="4"/><text class="t" x="67" y="98">0943 483738</text>
<line x1="7" y1="110" x2="91" y2="110" stroke="#ddd" stroke-width=".5"/><text class="t r" x="88" y="114">xong</text>
<use href="#np" x="7" y="116"/></g>
</svg>
</body></html>
